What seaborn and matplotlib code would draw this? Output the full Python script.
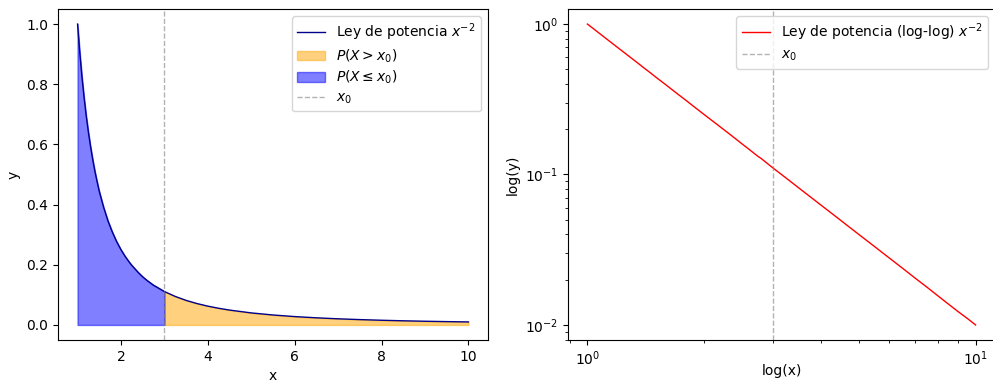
import matplotlib
matplotlib.use("Agg")
import matplotlib.pyplot as plt
import seaborn as sns
import numpy as np

x_vals = [1.0, 1.05, 1.1, 1.15, 1.2, 1.25, 1.3, 1.35, 1.4, 1.45, 1.5, 1.6, 1.7, 1.8, 1.9,
          2.0, 2.1, 2.2, 2.25, 2.4, 2.5, 2.6, 2.75, 2.8, 3.0, 3.25, 3.5, 3.75, 4.0, 4.25,
          4.5, 5.0, 5.5, 6.0, 6.5, 7.0, 7.5, 8.0, 8.5, 9.0, 9.5, 10.0]
y_vals = [1.0, 0.907, 0.826, 0.756, 0.694, 0.640, 0.592, 0.549, 0.510, 0.476, 0.444, 0.391,
          0.346, 0.309, 0.277, 0.250, 0.227, 0.207, 0.198, 0.174, 0.160, 0.148, 0.132, 0.128,
          0.111, 0.0947, 0.0816, 0.0711, 0.0625, 0.0554, 0.0494, 0.0400, 0.0331, 0.0278,
          0.0237, 0.0204, 0.0178, 0.0156, 0.0138, 0.0123, 0.0111, 0.0100]
x0 = 3.0

x = np.array(x_vals)
y = np.array(y_vals)

W, H = 993, 386
fig = plt.figure(figsize=(W / 100, H / 100), dpi=100)
ax1 = fig.add_axes([58 / W, 1 - 340 / H, (488 - 58) / W, (340 - 9) / H])
ax2 = fig.add_axes([568 / W, 1 - 340 / H, (995 - 568) / W, (340 - 9) / H])

sns.lineplot(x=x, y=y, ax=ax1, color="darkblue", linewidth=1, label=r"Ley de potencia $x^{-2}$")
ax1.fill_between(x, y, where=x >= x0, color="orange", alpha=0.5, label=r"$P(X > x_0)$")
ax1.fill_between(x, y, where=x <= x0, color="blue", alpha=0.5, label=r"$P(X \leq x_0)$")
ax1.axvline(x0, color="gray", linestyle="--", linewidth=1, alpha=0.6, label=r"$x_0$")
ax1.set_xlabel("x")
ax1.set_ylabel("y")
ax1.legend(loc="upper right", labelspacing=0.3)

sns.lineplot(x=x, y=y, ax=ax2, color="red", linewidth=1, label=r"Ley de potencia (log-log) $x^{-2}$")
ax2.axvline(x0, color="gray", linestyle="--", linewidth=1, alpha=0.6, label=r"$x_0$")
ax2.set_xscale("log")
ax2.set_yscale("log")
ax2.set_xlabel("log(x)", labelpad=-3)
ax2.set_ylabel("log(y)")
ax2.legend(loc="upper right", labelspacing=0.35)

fig.savefig("out.png", dpi=100)
